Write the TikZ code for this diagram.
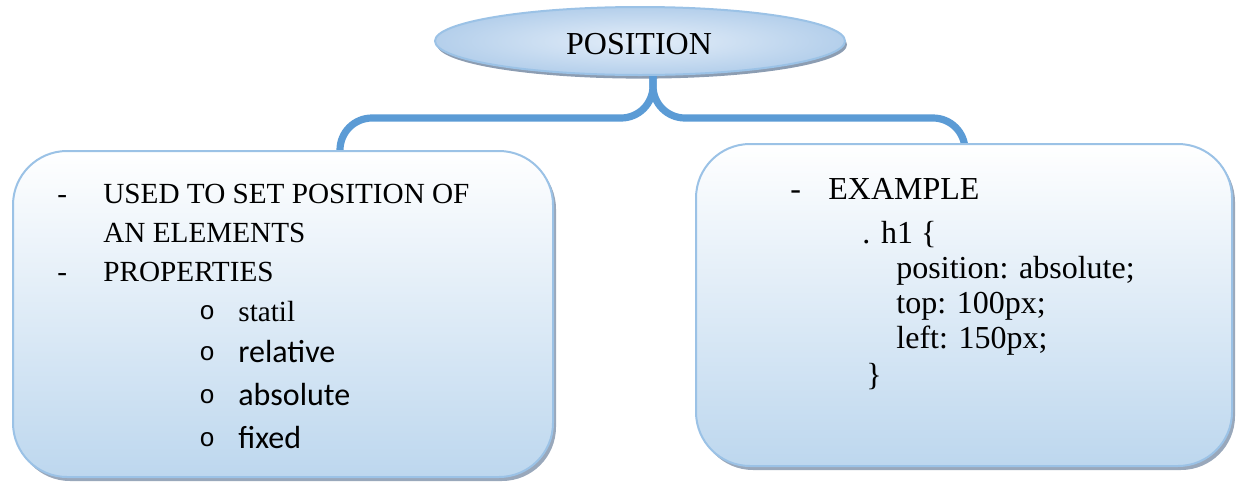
\documentclass[tikz,border=0pt]{standalone}
\usepackage{fontspec}
\setmainfont{Liberation Serif}
\newfontfamily\calibrifont{Carlito}
\newfontfamily\courierfont{Liberation Mono}
\usepackage{tikz}
\usetikzlibrary{shapes.geometric,shadows,calc,positioning}
\usepackage{xcolor}

\definecolor{connblue}{RGB}{91,155,213}
\definecolor{edgeblue}{RGB}{155,194,230}
\definecolor{fillblue}{RGB}{189,215,238}
\definecolor{ellipselight}{RGB}{228,238,249}
\definecolor{ellipsedark}{RGB}{180,207,235}
\definecolor{shadowblue}{RGB}{128,146,170}

\begin{document}
\begin{tikzpicture}[x=0.5pt, y=-0.5pt,
  topic/.style={ellipse, draw=edgeblue, line width=1pt, inner sep=0pt,
    minimum width=205pt, minimum height=34pt,
    inner color=ellipselight, outer color=ellipsedark,
    font=\fontsize{16}{19}\selectfont,
    drop shadow={shadow xshift=1pt, shadow yshift=-1.8pt, fill=shadowblue, opacity=0.9}},
  card/.style={anchor=north west, draw=edgeblue, line width=1pt, rounded corners=27pt,
    top color=white, bottom color=fillblue,
    drop shadow={shadow xshift=1.5pt, shadow yshift=-2pt, fill=shadowblue, opacity=0.8}},
  branch/.style={connblue, line width=3.6pt, rounded corners=16pt},
  entry/.style={anchor=base west, inner sep=0pt},
  note/.style={entry, font=\fontsize{14.6}{17}\selectfont},
  code/.style={entry, font=\fontsize{16}{19}\selectfont},
  listitem/.style={entry, font=\calibrifont\fontsize{16}{19}\selectfont},
  dot/.style={entry, font=\courierfont\fontsize{13}{16}\selectfont},
]
  \useasboundingbox (0,0) rectangle (1237,483);

  % The topic on top
  \node[topic] (topic) at (640,41) {};
  \node[code, anchor=center] (title) at (639,44) {POSITION};

  % Branches down to the two cards
  \coordinate (joint) at ($(topic.south)+(6.5pt,0)$);
  \coordinate (leftend) at (340,152);
  \coordinate (rightend) at (965,145);
  \draw[branch] (joint) |- ($(leftend)+(0,-34)$) -- (leftend);
  \draw[branch] (joint) |- ($(rightend)+(0,-27)$) -- (rightend);

  % The two cards
  \node[card, minimum width=270pt, minimum height=163pt] (props) at (12,150) {};
  \node[card, minimum width=268pt, minimum height=161pt] (example) at (695,143) {};

  % Left card
  \node[note] (dashA) at (57,203) {-};
  \node[note] (used) at (103,203) {USED TO SET POSITION OF};
  \node[note] (elements) at (103,242) {AN ELEMENTS};
  \node[note] (dashB) at (57,281) {-};
  \node[note] (properties) at (103,281) {PROPERTIES};
  \foreach \y [count=\i] in {319,360,403,446}
    \node[dot] (bullet\i) at (199,\y) {o};
  \node[note] (statil) at (238,321) {statil};
  \node[listitem] (relative) at (238,362) {relative};
  \node[listitem] (absolute) at (238,405) {absolute};
  \node[listitem] (fixed) at (238,448) {fixed};

  % Right card
  \node[code] (dashC) at (790,199) {-};
  \node[code] (extitle) at (828,199) {EXAMPLE};
  \node[code] (selector) at (862,243) {. h1 \{};
  \node[code] (declA) at (896,278) {position: absolute;};
  \node[code] (declB) at (896,313) {top: 100px;};
  \node[code] (declC) at (896,348) {left: 150px;};
  \node[code] (closing) at (866,385) {\}};
\end{tikzpicture}
\end{document}
